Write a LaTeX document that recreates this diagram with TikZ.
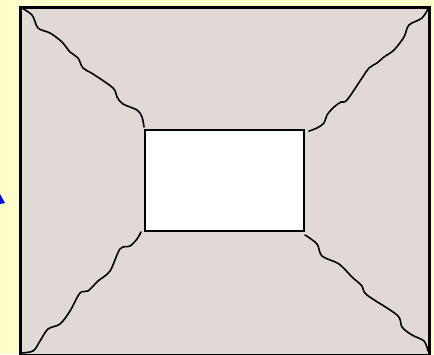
\documentclass[tikz,border=0pt]{standalone}
\usepackage{tikz}
\usepackage{xcolor}
\definecolor{paleyellow}{RGB}{255, 255, 204}
\definecolor{wallgray}{RGB}{225, 217, 213}
\definecolor{pointerblue}{RGB}{0, 0, 255}

\begin{document}
\begin{tikzpicture}[
    x=1pt, y=-1pt,
    frame/.style={draw=black, fill=wallgray, line width=3pt},
    window/.style={draw=black, fill=white, line width=1.6pt},
    crease/.style={draw=black, line width=1.6pt, line cap=round, smooth, tension=0.55},
    pointer/.style={fill=pointerblue}
]

% Background
\fill[paleyellow] (0,0) rectangle (434,354);
\useasboundingbox (0,0) rectangle (434,354);

% Corners
\coordinate (outerNW) at (20,7);
\coordinate (outerSE) at (429,355);
\coordinate (innerNW) at (145,130);
\coordinate (innerSE) at (304,231);

% Main components
\draw[frame] (outerNW) rectangle (outerSE);
\draw[window] (innerNW) rectangle (innerSE);

% Creases
\coordinate (creaseNW) at (144,127);
\coordinate (creaseNE) at (309,131);
\coordinate (creaseSW) at (141,232);
\coordinate (creaseSE) at (305,235);
\draw[crease] plot coordinates {(outerNW) (32,15) (38,28) (50,33) (62,42) (70,52) (78,58) (83,68) (93,74) (113,88) (117,97) (123,104) (137,110) (142,117) (creaseNW)};
\draw[crease] plot coordinates {(creaseNE) (317,128) (324,123) (327,115) (334,107) (341,102) (347,100) (362,78) (369,68) (377,63) (384,57) (394,50) (404,37) (409,25) (422,18) (429,7)};
\draw[crease] plot coordinates {(creaseSW) (137,239) (130,246) (120,249) (110,271) (98,281) (88,291) (80,293) (70,311) (60,324) (48,329) (40,341) (33,351) (20,353)};
\draw[crease] plot coordinates {(creaseSE) (317,244) (322,256) (339,264) (352,277) (362,286) (367,295) (397,315) (402,327) (412,335) (424,341) (428,351)};

% Pointer
\fill[pointer] (0,194) -- (5,203) -- (0,204) -- cycle;

\end{tikzpicture}
\end{document}
